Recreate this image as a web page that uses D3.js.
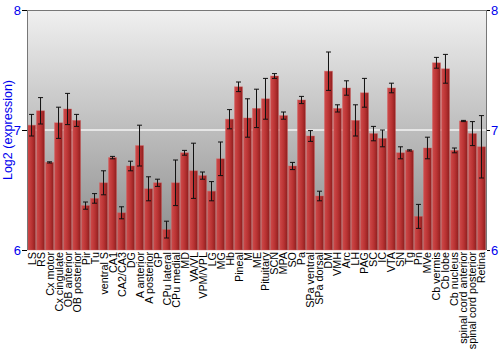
<!DOCTYPE html>
<html><head><meta charset="utf-8">
<script src="https://cdn.jsdelivr.net/npm/d3@7"></script>
<style>body{margin:0;background:#fff}svg{display:block}</style>
</head><body>
<svg id="c" width="500" height="350"></svg>
<script>
const categories = ["LS","RS","Cx motor","Cx cingulate","OB anterior","OB posterior","Pir","Tu","ventral S","CA1","CA2/CA3","DG","A anterior","A posterior","GP","CPu lateral","CPu medial","MD","VA/VL","VPM/VPL","LG","MG","Hb","Pineal","M","ME","Pituitary","SCN","MPA","SO","Pa","SPa ventral","SPa dorsal","DM","VMH","Arc","LH","PAG","SC","IC","VTA","SN","Tg","Pn","MVe","Cb vermis","Cb lobe","Cb nucleus","spinal cord anterior","spinal cord posterior","Retina"];
const values = [7.04,7.16,6.73,7.06,7.175,7.08,6.37,6.43,6.56,6.77,6.31,6.70,6.87,6.51,6.56,6.17,6.56,6.81,6.66,6.62,6.49,6.76,7.09,7.36,7.10,7.18,7.26,7.45,7.12,6.70,7.25,6.95,6.45,7.49,7.18,7.35,7.08,7.31,6.97,6.93,7.35,6.81,6.83,6.28,6.85,7.56,7.51,6.83,7.075,6.97,6.86];
const errors = [0.09,0.11,0.005,0.13,0.13,0.05,0.03,0.04,0.10,0.01,0.05,0.04,0.17,0.10,0.03,0.07,0.19,0.02,0.23,0.03,0.08,0.14,0.08,0.04,0.16,0.16,0.17,0.02,0.03,0.03,0.03,0.045,0.04,0.16,0.03,0.06,0.13,0.12,0.06,0.07,0.04,0.05,0.005,0.10,0.09,0.045,0.12,0.02,0.005,0.10,0.26];
const yTicks = [6,7,8];

const svg = d3.select("#c");
const L = 27, R = 486, T = 10, B = 250;
const x = d3.scaleBand().domain(categories).range([L, R]).paddingInner(0.11).paddingOuter(0.06);
const y = d3.scaleLinear().domain([6, 8]).range([B, T]);

const defs = svg.append("defs");
const bg = defs.append("linearGradient").attr("id","bg").attr("x1",0).attr("y1",0).attr("x2",0).attr("y2",1);
bg.append("stop").attr("offset","0%").attr("stop-color","#f0f0f0");
bg.append("stop").attr("offset","100%").attr("stop-color","#8a8a8a");
const bar = defs.append("linearGradient").attr("id","bar").attr("x1",0).attr("y1",0).attr("x2",1).attr("y2",0);
bar.append("stop").attr("offset","0%").attr("stop-color","#cf4a4a");
bar.append("stop").attr("offset","55%").attr("stop-color","#b83232");
bar.append("stop").attr("offset","100%").attr("stop-color","#8e1e1e");

svg.append("rect").attr("x",L).attr("y",T).attr("width",R-L).attr("height",B-T).attr("fill","url(#bg)");

svg.append("line").attr("x1",L).attr("x2",R).attr("y1",y(7)).attr("y2",y(7)).attr("stroke","#f4f4f4").attr("stroke-width",1.5);

svg.append("g").selectAll("rect").data(categories).join("rect")
  .attr("x", d => x(d)).attr("width", x.bandwidth())
  .attr("y", (d,i) => y(values[i])).attr("height", (d,i) => B - y(values[i]))
  .attr("fill","url(#bar)").attr("stroke","#d86060").attr("stroke-opacity",0.5).attr("stroke-width",0.8);

const eg = svg.append("g").attr("stroke","#111").attr("stroke-width",1);
categories.forEach((c,i) => {
  const cx = x(c) + x.bandwidth()/2;
  const y1 = y(values[i] + errors[i]), y2 = y(values[i] - errors[i]);
  eg.append("line").attr("x1",cx).attr("x2",cx).attr("y1",y1).attr("y2",y2);
  eg.append("line").attr("x1",cx-2.5).attr("x2",cx+2.5).attr("y1",y1).attr("y2",y1);
  eg.append("line").attr("x1",cx-2.5).attr("x2",cx+2.5).attr("y1",y2).attr("y2",y2);
});

svg.append("line").attr("x1",L).attr("x2",R).attr("y1",T+0.5).attr("y2",T+0.5).attr("stroke","#777");
svg.append("line").attr("x1",L+0.5).attr("x2",L+0.5).attr("y1",T).attr("y2",B).attr("stroke","#777");
svg.append("line").attr("x1",R+0.5).attr("x2",R+0.5).attr("y1",T).attr("y2",B).attr("stroke","#777");

const la = svg.append("g").attr("transform",`translate(${L},0)`)
  .call(d3.axisLeft(y).tickValues(yTicks).tickFormat(d3.format("d")).tickSize(5).tickPadding(1));
la.select(".domain").remove();
const ra = svg.append("g").attr("transform",`translate(${R+1},0)`)
  .call(d3.axisRight(y).tickValues(yTicks).tickFormat(d3.format("d")).tickSize(3).tickPadding(1));
ra.select(".domain").remove();
[la, ra].forEach(a => {
  a.selectAll("line").attr("stroke","#000");
  a.selectAll("text").attr("fill","#0000ee").style("font-family","Liberation Sans, Arial, sans-serif").style("font-size","13px");
});

svg.append("g").selectAll("text").data(categories).join("text")
  .attr("transform", d => `translate(${x(d)+x.bandwidth()/2+4},${B+2}) rotate(-90)`)
  .attr("text-anchor","end")
  .style("font-family","Liberation Sans, Arial, sans-serif").style("font-size","10.8px").attr("fill","#000")
  .text(d => d);

svg.append("text").attr("transform",`translate(12,${(T+B)/2}) rotate(-90)`)
  .attr("text-anchor","middle").attr("fill","#0000ee")
  .style("font-family","Liberation Sans, Arial, sans-serif").style("font-size","12.5px")
  .text("Log2 (expression)");
</script>
</body></html>
